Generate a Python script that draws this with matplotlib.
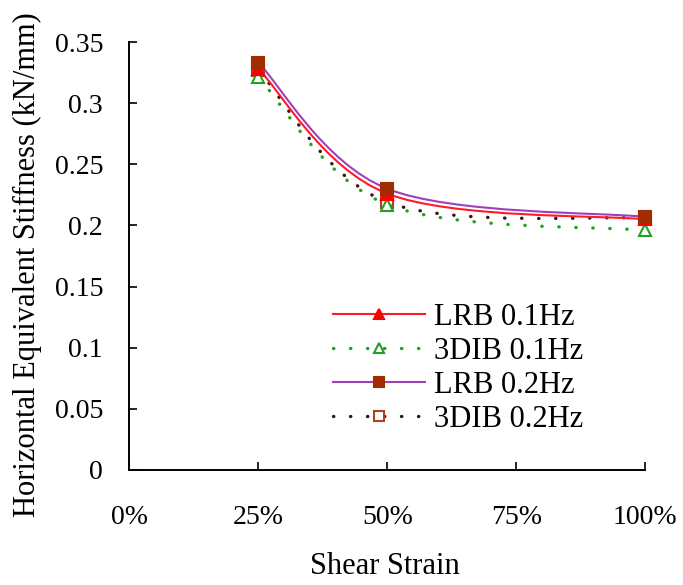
import numpy as np
import matplotlib
matplotlib.use("Agg")
import matplotlib.pyplot as plt
from matplotlib.path import Path
from matplotlib.patches import PathPatch
from matplotlib.lines import Line2D

# ==================== DATA ====================

strain = [25, 50, 100]                      # shear strain (%)
lrb_01 = [0.328, 0.226, 0.205]              # LRB 0.1Hz
dib_01 = [0.321, 0.217, 0.196]              # 3DIB 0.1Hz
lrb_02 = [0.333, 0.230, 0.207]              # LRB 0.2Hz
dib_02 = [0.327, 0.219, 0.206]              # 3DIB 0.2Hz

labels = ["LRB 0.1Hz", "3DIB 0.1Hz", "LRB 0.2Hz", "3DIB 0.2Hz"]
x_ticks = [0, 25, 50, 75, 100]
x_ticklabels = ["0%", "25%", "50%", "75%", "100%"]
y_ticks = [0, 0.05, 0.1, 0.15, 0.2, 0.25, 0.3, 0.35]
y_ticklabels = ["0", "0.05", "0.1", "0.15", "0.2", "0.25", "0.3", "0.35"]

# ==================== HELPERS ====================

def smooth_path(xs, ys):
    """ Excel-like smoothed line: cubic bezier through the points. """
    pts = np.column_stack([xs, ys]).astype(float)
    n = len(pts)
    verts = [pts[0]]
    codes = [Path.MOVETO]
    for i in range(n - 1):
        p0 = pts[max(i - 1, 0)]
        p1 = pts[i]
        p2 = pts[i + 1]
        p3 = pts[min(i + 2, n - 1)]
        c1 = p1 + (p2 - p0) / 6.0
        c2 = p2 - (p3 - p1) / 6.0
        verts += [c1, c2, p2]
        codes += [Path.CURVE4] * 3
    return Path(verts, codes)

# ==================== PLOT ====================

plt.rcParams['font.family'] = ['Liberation Serif', 'DejaVu Serif']

fig = plt.figure(figsize=(6.83, 5.85), dpi=100)
ax = fig.add_axes([0.1896, 0.1966, 0.7548, 0.7316])

dots = (0, (0.1, 5.0))
# values, line colour, style, width, marker, face, edge, zorder
series = [
    (lrb_01, '#ff1a2a', '-', 1.5, '^', '#ff0000', '#ff0000', 4),
    (dib_01, '#23a023', dots, 2.4, '^', 'white', '#23a023', 3),
    (lrb_02, '#a040b8', '-', 1.5, 's', '#a02c00', '#a02c00', 5),
    (dib_02, '#3a1410', dots, 2.4, 's', 'white', '#b04020', 2),
]

handles = []
for (vals, col, ls, lw, mk, mfc, mec, z), lab in zip(series, labels):
    patch = PathPatch(smooth_path(strain, vals), facecolor='none',
                      edgecolor=col, linestyle=ls, linewidth=lw,
                      capstyle='round', zorder=z)
    ax.add_patch(patch)
    ax.plot(strain, vals, linestyle='none', marker=mk, markersize=9,
            markerfacecolor=mfc, markeredgecolor=mec, markeredgewidth=1.5,
            zorder=z + 0.5, clip_on=False)
    handles.append(Line2D([], [], color=col, linestyle=ls, linewidth=lw,
                          dash_capstyle='round',
                          marker=mk, markersize=7.5, markerfacecolor=mfc,
                          markeredgecolor=mec, markeredgewidth=1.5))

ax.set_xlim(0, 100)
ax.set_ylim(0, 0.35)
ax.set_xticks(x_ticks)
ax.set_xticklabels(x_ticklabels)
ax.set_yticks(y_ticks)
ax.set_yticklabels(y_ticklabels)
ax.tick_params(axis='both', direction='in', length=6, width=1.2,
               labelsize=20, colors='black')
ax.tick_params(axis='x', pad=25)
ax.tick_params(axis='y', pad=19)

ax.spines['top'].set_visible(False)
ax.spines['right'].set_visible(False)
ax.spines['left'].set_linewidth(1.4)
ax.spines['bottom'].set_linewidth(1.4)

fig.text(385 / 683, 1 - 567 / 585, "Shear Strain", fontsize=22,
         ha='center', va='center')
fig.text(27 / 683, 1 - 265 / 585, "Horizontal Equivalent Stiffness (kN/mm)",
         fontsize=22, rotation=90, ha='center', va='center')

fig.legend(handles, labels, loc='upper left',
           bbox_to_anchor=(333 / 683, 1 - 303 / 585),
           frameon=False, fontsize=22, handlelength=3.0, handletextpad=0.3,
           labelspacing=0.16, borderpad=0, borderaxespad=0)

fig.savefig("out.png", dpi=100)
